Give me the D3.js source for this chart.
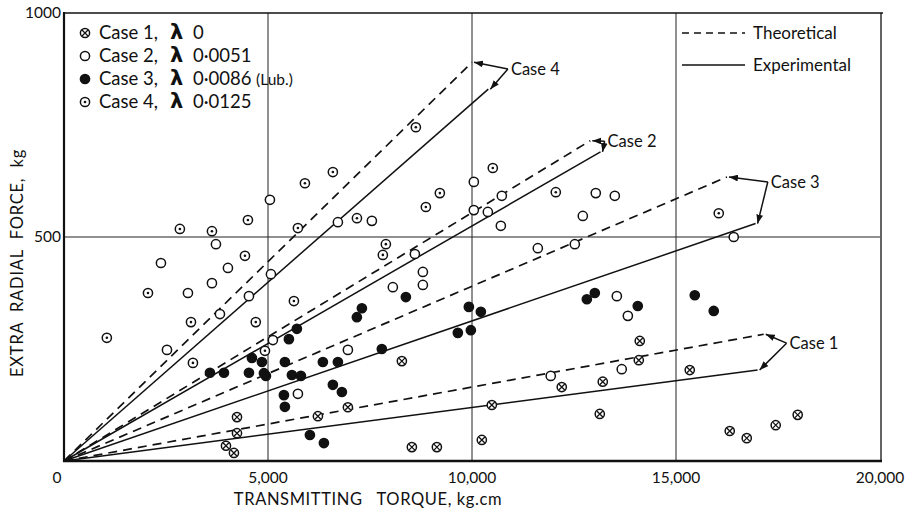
<!DOCTYPE html>
<html lang="en">
<head>
  <meta charset="UTF-8">
  <title>Extra radial force vs transmitting torque</title>
  <script src="https://cdnjs.cloudflare.com/ajax/libs/d3/7.8.5/d3.min.js"></script>
  <style>
    body { margin: 0; background: #fff; }
    svg { font-family: Lato, "DejaVu Sans", sans-serif; }
    .grid line { stroke: #222; stroke-width: 1; }
    .lbl { fill: #111; }
  </style>
</head>
<body>
  <svg width="914" height="512"></svg>
  <script>
    // legend text
    var caseNames = ["Case 1", "Case 2", "Case 3", "Case 4"]
    var lambdas = ["0", "0\u00b70051", "0\u00b70086", "0\u00b70125"]

    // measured points [torque kg.cm, force kg]
    var case1Pts = [[4240, 98], [4240, 62], [3970, 34], [4165, 18], [6223, 100], [6958, 120],
      [8281, 223], [8526, 31], [9139, 31], [10241, 47], [10486, 125], [12200, 165], [13205, 177],
      [13132, 105], [14112, 268], [14088, 225], [15337, 203], [16317, 67], [16734, 51],
      [17444, 80], [17983, 103]]
    var case2Pts = [[2376, 442], [3038, 375], [3626, 397], [4018, 431], [3724, 484], [5047, 583],
      [5072, 417], [4533, 368], [6713, 533], [7546, 536], [2524, 248], [3822, 328], [5120, 270],
      [6958, 248], [5733, 150], [10045, 623], [10731, 592], [10388, 556], [10707, 525],
      [10045, 560], [13034, 598], [13500, 592], [12716, 547], [11613, 475], [12520, 484],
      [8600, 462], [8796, 422], [8796, 393], [8060, 388], [13550, 368], [13820, 324],
      [13670, 205], [11930, 190], [16415, 500]]
    var case3Pts = [[3577, 197], [3920, 197], [4533, 197], [4606, 230], [4851, 221], [4900, 196],
      [4949, 190], [5708, 295], [5512, 272], [5414, 221], [5586, 192], [5806, 190], [5390, 147],
      [5414, 121], [6345, 221], [6713, 221], [6590, 170], [6811, 154], [7178, 321], [7301, 341],
      [7790, 250], [6027, 58], [6370, 40], [8379, 366], [9653, 286], [9972, 292], [9923, 344],
      [10217, 333], [12815, 361], [13010, 375], [14063, 346], [15460, 370], [15925, 335]]
    var case4Pts = [[1050, 275], [2058, 375], [2840, 518], [3626, 513], [4508, 538], [5905, 620],
      [5733, 520], [4435, 458], [5635, 357], [6590, 645], [8624, 745], [10510, 654], [9212, 598],
      [8869, 567], [12054, 600], [7889, 484], [7815, 460], [7180, 542], [16048, 553],
      [3112, 310], [4700, 310], [3160, 219], [4925, 246]]

    // end points of the lines drawn from the origin
    var theoreticalEnds = [[17150, 283], [12900, 715], [16250, 634], [10000, 890]]
    var experimentalEnds = [[17000, 203], [13150, 690], [16950, 530], [10400, 830]]
    // where the "Case n" arrows start
    var labelPoints = [[17710, 263], [13250, 714], [17250, 623], [10880, 875]]

    var xTicks = [5000, 10000, 15000, 20000]
    var yTicks = [500, 1000]

    var svg = d3.select("svg")
    var x = d3.scaleLinear().domain([0, 20000]).range([64, 880])
    var y = d3.scaleLinear().domain([0, 1000]).range([461, 13])

    svg.append("defs").append("marker")
        .attr("id", "arr")
        .attr("viewBox", "0 0 8 6")
        .attr("refX", 8).attr("refY", 3)
        .attr("markerWidth", 9).attr("markerHeight", 7)
        .attr("markerUnits", "userSpaceOnUse")
        .attr("orient", "auto")
      .append("path").attr("d", "M0,0L8,3L0,6Z").attr("fill", "#111")

    // grid
    var grid = svg.append("g").attr("class", "grid")
    grid.selectAll(".vx").data(xTicks.slice(0, 3)).join("line")
        .attr("x1", d => x(d)).attr("x2", d => x(d))
        .attr("y1", y(1000)).attr("y2", y(0))
    grid.append("line")
        .attr("x1", x(0)).attr("x2", x(20000))
        .attr("y1", y(500)).attr("y2", y(500))

    // frame
    svg.append("line").attr("x1", x(0)).attr("x2", x(20000) + 3)
        .attr("y1", y(1000)).attr("y2", y(1000)).attr("stroke", "#111").attr("stroke-width", 1.5)
    svg.append("line").attr("x1", x(20000) + 1).attr("x2", x(20000) + 1)
        .attr("y1", y(1000)).attr("y2", y(0)).attr("stroke", "#111").attr("stroke-width", 1.3)
    svg.append("line").attr("x1", x(0)).attr("x2", x(0))
        .attr("y1", y(1000) - 1).attr("y2", y(0) + 1).attr("stroke", "#111").attr("stroke-width", 2.2)
    svg.append("line").attr("x1", x(0) - 1).attr("x2", x(20000) + 2)
        .attr("y1", y(0)).attr("y2", y(0)).attr("stroke", "#111").attr("stroke-width", 2.4)

    // tick labels
    var fmt = d3.format(",")
    svg.selectAll(".xt").data(xTicks).join("text")
        .attr("class", "lbl")
        .attr("x", d => x(d)).attr("y", y(0) + 22)
        .attr("text-anchor", "middle").attr("font-size", 15.5)
        .text(d => fmt(d))
    svg.append("text").attr("class", "lbl")
        .attr("x", x(0) - 7).attr("y", y(0) + 22)
        .attr("text-anchor", "middle").attr("font-size", 15.5).text("0")
    svg.selectAll(".yt").data(yTicks).join("text")
        .attr("class", "lbl")
        .attr("x", x(0) - 3).attr("y", d => y(d) + 5)
        .attr("text-anchor", "end").attr("font-size", 15.5)
        .text(d => d)

    // axis titles
    svg.append("text").attr("class", "lbl")
        .attr("x", 368).attr("y", 505)
        .attr("text-anchor", "middle").attr("font-size", 16.5)
        .attr("letter-spacing", 0.6)
        .attr("xml:space", "preserve")
        .text("TRANSMITTING   TORQUE, kg.cm")
    svg.append("text").attr("class", "lbl")
        .attr("transform", "translate(23,263) rotate(-90)")
        .attr("text-anchor", "middle").attr("font-size", 16.5)
        .attr("letter-spacing", 0.8)
        .attr("xml:space", "preserve")
        .text("EXTRA  RADIAL  FORCE,  kg")

    // lines from origin
    var lines = svg.append("g").attr("fill", "none").attr("stroke", "#111")
    lines.selectAll(".th").data(theoreticalEnds).join("line")
        .attr("x1", x(0)).attr("y1", y(0))
        .attr("x2", d => x(d[0])).attr("y2", d => y(d[1]))
        .attr("stroke-width", 1.7).attr("stroke-dasharray", "9,6")
    lines.selectAll(".ex").data(experimentalEnds).join("line")
        .attr("x1", x(0)).attr("y1", y(0))
        .attr("x2", d => x(d[0])).attr("y2", d => y(d[1]))
        .attr("stroke-width", 1.5)

    // case labels with arrows
    var ann = svg.append("g")
    labelPoints.forEach(function (p, i) {
      [theoreticalEnds[i], experimentalEnds[i]].forEach(function (e) {
        ann.append("line")
            .attr("x1", x(p[0])).attr("y1", y(p[1]))
            .attr("x2", x(e[0]) + 2).attr("y2", y(e[1]))
            .attr("stroke", "#111").attr("stroke-width", 1.5)
            .attr("marker-end", "url(#arr)")
      })
      ann.append("text").attr("class", "lbl")
          .attr("x", x(p[0]) + 3).attr("y", y(p[1]) + 6)
          .attr("font-size", 16.5)
          .text(caseNames[i])
    })

    // markers
    function drawMarker(g, kind) {
      g.append("circle").attr("r", 4.6)
          .attr("fill", kind === 2 ? "#111" : "#fff")
          .attr("stroke", "#111").attr("stroke-width", 1.5)
      if (kind === 0) {
        g.append("path").attr("d", "M-3,-3L3,3M3,-3L-3,3")
            .attr("stroke", "#111").attr("stroke-width", 1.3)
      }
      if (kind === 3) {
        g.append("circle").attr("r", 1.3).attr("fill", "#111")
      }
    }
    var pointSets = [case1Pts, case2Pts, case3Pts, case4Pts]
    pointSets.forEach(function (pts, k) {
      svg.append("g").selectAll("g").data(pts).join("g")
          .attr("transform", d => "translate(" + x(d[0]) + "," + y(d[1]) + ")")
          .each(function () { drawMarker(d3.select(this), k) })
    })

    // legend (cases)
    var leg = svg.append("g")
    caseNames.forEach(function (name, i) {
      var ly = 33 + i * 23
      var g = leg.append("g").attr("transform", "translate(85," + ly + ")")
      drawMarker(g, i)
      var t = leg.append("text").attr("class", "lbl")
          .attr("x", 99).attr("y", ly + 6).attr("font-size", 18.5)
      t.append("tspan").text(name + ",")
      t.append("tspan").attr("x", 170).attr("font-family", "DejaVu Sans")
          .attr("font-weight", "bold").attr("font-size", 21).text("\u03bb")
      t.append("tspan").attr("x", 193).text(lambdas[i])
      if (i === 2) {
        leg.append("text").attr("class", "lbl")
            .attr("x", 256).attr("y", ly + 6).attr("font-size", 15.5).text("(Lub.)")
      }
    })

    // legend (line types)
    var types = ["Theoretical", "Experimental"]
    types.forEach(function (name, i) {
      var ly = 33 + i * 32
      leg.append("line").attr("x1", 682).attr("x2", 745)
          .attr("y1", ly).attr("y2", ly)
          .attr("stroke", "#111").attr("stroke-width", 1.6)
          .attr("stroke-dasharray", i === 0 ? "7,5" : null)
      leg.append("text").attr("class", "lbl")
          .attr("x", 753).attr("y", ly + 6).attr("font-size", 17).text(name)
    })
  </script>
</body>
</html>
